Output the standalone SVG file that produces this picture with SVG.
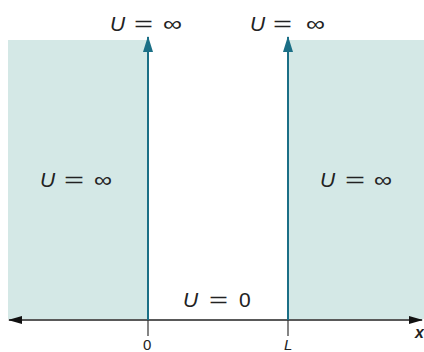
<svg xmlns="http://www.w3.org/2000/svg" width="424" height="352" viewBox="0 0 424 352">
<defs>
<style>
.shade{fill:#d4e8e6}
.wall{stroke:#1b6f86;stroke-width:2;fill:none}
.axis{stroke:#222;stroke-width:1.5;fill:none}
.tick{stroke:#333;stroke-width:1.2}
.lbl{font-family:"Liberation Sans",Arial,sans-serif;font-size:21px;fill:#222}
.sm{font-family:"Liberation Sans",Arial,sans-serif;font-size:15px;fill:#222}
.it{font-style:italic}
</style>
<marker id="wallhead" viewBox="0 0 16 10" refX="15" refY="5" markerWidth="16" markerHeight="10" markerUnits="userSpaceOnUse" orient="auto">
<path d="M0,0 L16,5 L0,10 Z" fill="#1b6f86"/>
</marker>
<marker id="axhead" viewBox="0 0 14 10" refX="13" refY="5" markerWidth="14" markerHeight="10" markerUnits="userSpaceOnUse" orient="auto-start-reverse">
<path d="M0,1 L14,5 L0,9 Z" fill="#111"/>
</marker>
</defs>
<rect width="424" height="352" fill="#fff"/>
<g id="region-left"><rect class="shade" x="8" y="40" width="140" height="279"/></g>
<g id="region-right"><rect class="shade" x="288" y="40" width="136" height="279"/></g>
<g id="connectors">
<line class="axis" x1="9" y1="320" x2="422" y2="320" marker-start="url(#axhead)" marker-end="url(#axhead)"/>
<line class="wall" x1="148" y1="320" x2="148" y2="37" marker-end="url(#wallhead)"/>
<line class="wall" x1="288" y1="320" x2="288" y2="37" marker-end="url(#wallhead)"/>
<line class="tick" x1="148" y1="320" x2="148" y2="336"/>
<line class="tick" x1="288" y1="320" x2="288" y2="336"/>
</g>
<g id="label-top-left">
<text class="lbl it" x="110" y="31">U</text>
<text class="lbl" x="134" y="31" textLength="19" lengthAdjust="spacingAndGlyphs">=</text>
<text class="lbl" x="163" y="31" textLength="19" lengthAdjust="spacingAndGlyphs">∞</text>
</g>
<g id="label-top-right">
<text class="lbl it" x="250" y="31">U</text>
<text class="lbl" x="273" y="31" textLength="19" lengthAdjust="spacingAndGlyphs">=</text>
<text class="lbl" x="306" y="31" textLength="19" lengthAdjust="spacingAndGlyphs">∞</text>
</g>
<g id="label-left">
<text class="lbl it" x="40" y="187">U</text>
<text class="lbl" x="64" y="187" textLength="20" lengthAdjust="spacingAndGlyphs">=</text>
<text class="lbl" x="94" y="187" textLength="18" lengthAdjust="spacingAndGlyphs">∞</text>
</g>
<g id="label-right">
<text class="lbl it" x="320" y="187">U</text>
<text class="lbl" x="345" y="187" textLength="20" lengthAdjust="spacingAndGlyphs">=</text>
<text class="lbl" x="374" y="187" textLength="18" lengthAdjust="spacingAndGlyphs">∞</text>
</g>
<g id="label-well">
<text class="lbl it" x="183" y="307">U</text>
<text class="lbl" x="209" y="307" textLength="19" lengthAdjust="spacingAndGlyphs">=</text>
<text class="lbl" x="239" y="307">0</text>
</g>
<g id="axis-labels">
<text class="sm it" x="415" y="338" style="font-size:16px;font-weight:bold">x</text>
<text class="sm" x="143" y="350">0</text>
<text class="sm it" x="284" y="350">L</text>
</g>
</svg>
